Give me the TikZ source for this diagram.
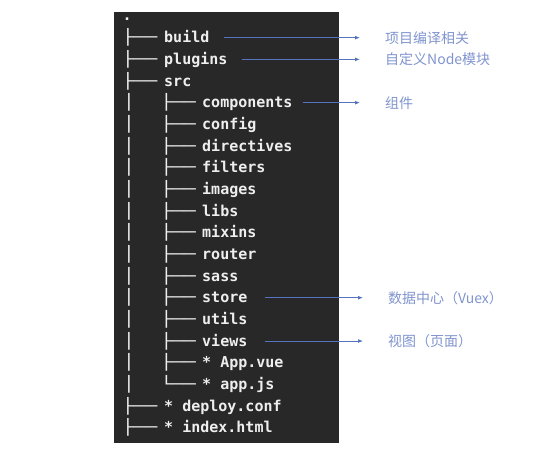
\documentclass[tikz,border=0pt]{standalone}
\usepackage{fontspec}
\setmonofont{DejaVu Sans Mono}
\newfontfamily\treefont[FakeStretch=1.3]{DejaVu Sans Mono}
\newfontfamily\cjk{Noto Sans CJK SC}
\usetikzlibrary{arrows.meta}
\definecolor{codebg}{RGB}{40,40,40}
\definecolor{codefg}{RGB}{238,238,238}
\definecolor{arrowblue}{RGB}{85,115,190}
\definecolor{labelblue}{RGB}{128,148,206}
\tikzset{
  entry/.style={anchor=base west, inner sep=0pt, text=codefg, text height=12pt, text depth=2pt,
    font=\ttfamily\bfseries\fontsize{15}{18}\selectfont},
  tree/.style={anchor=base west, inner sep=0pt, text=codefg, font=\treefont\bfseries\fontsize{15}{18}\selectfont},
  note/.style={anchor=west, inner sep=0pt, text=labelblue, font=\cjk\fontsize{14}{16}\selectfont},
  pointer/.style={draw=arrowblue, line width=0.9pt, -{Latex[length=5pt,width=4pt]},
    shorten <=14pt, shorten >=25pt}
}
\begin{document}
\begin{tikzpicture}[x=1pt, y=-1pt]
\useasboundingbox (0,0) rectangle (544,452);
% terminal background
\fill[codebg] (114,12) rectangle (339,443);
\node[entry] (top) at (122.5,21) {.};
% first level entries
\foreach \id/\txt/\r in {build/build/1, plugins/plugins/2, src/src/3, deploy/{* deploy.conf}/18, index/{* index.html}/19}
  \node[entry] (\id) at (164,{21+\r*21.67}) {\txt};
% entries inside src
\foreach \id/\txt/\r in {components/components/4, config/config/5, directives/directives/6,
    filters/filters/7, images/images/8, libs/libs/9, mixins/mixins/10, router/router/11,
    sass/sass/12, store/store/13, utils/utils/14, views/views/15, appvue/{* App.vue}/16, appjs/{* app.js}/17}
  \node[entry] (\id) at (202,{21+\r*21.67}) {\txt};
% tree branches
\foreach \r in {1,2,3,18,19}
  \node[tree] (ta\r) at (122,{21+\r*21.67}) {├──};
\foreach \r in {4,...,17}
  \node[tree] (tv\r) at (123,{21+\r*21.67}) {│};
\foreach \r in {4,...,16}
  \node[tree] (tb\r) at (160.5,{21+\r*21.67}) {├──};
\node[tree] (tb17) at (160.5,{21+17*21.67}) {└──};
% notes on the right
\node[note] (labbuild) at (385,{16+1*21.67}) {项目编译相关};
\node[note] (labplugins) at (385,{16+2*21.67}) {自定义Node模块};
\node[note] (labcomponents) at (385,{16+4*21.67}) {组件};
\node[note] (labstore) at (388,{16+13*21.67}) {数据中心（Vuex）};
\node[note] (labviews) at (388,{16+15*21.67}) {视图（页面）};
\draw[pointer] (build) -- (labbuild);
\draw[pointer] (plugins) -- (labplugins);
\draw[pointer, shorten <=10pt] (components) -- (labcomponents);
\draw[pointer, shorten <=17pt] (store) -- (labstore);
\draw[pointer, shorten <=17pt] (views) -- (labviews);
\end{tikzpicture}
\end{document}
